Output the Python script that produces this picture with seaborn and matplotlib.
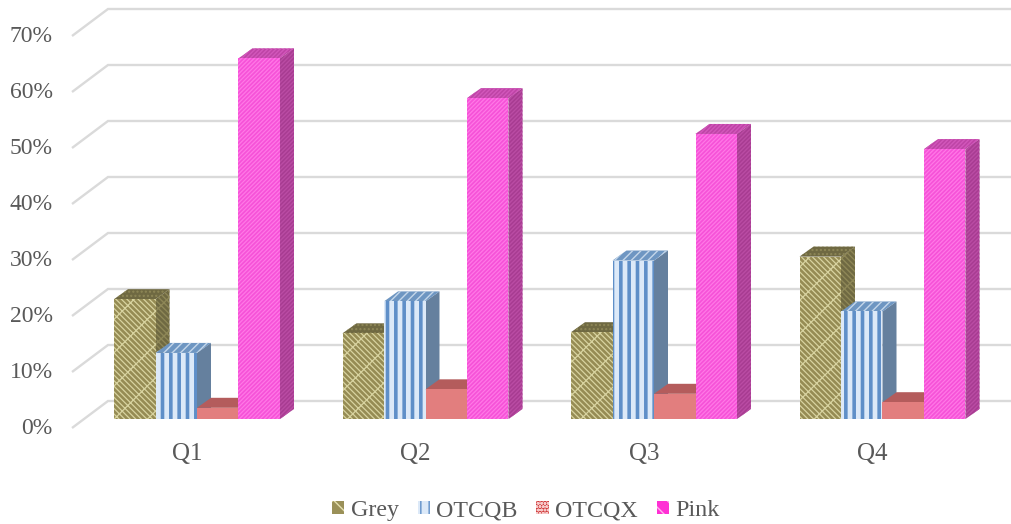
import matplotlib
matplotlib.use("Agg")
import matplotlib.pyplot as plt
from matplotlib.patches import Patch, Polygon
from matplotlib.transforms import ScaledTranslation
import pandas as pd
import seaborn as sns

quarters = ["Q1", "Q2", "Q3", "Q4"]
tiers = ["Grey", "OTCQB", "OTCQX", "Pink"]
grey = [21.4, 15.3, 15.5, 29.0]
otcqb = [11.8, 21.0, 28.3, 19.2]
otcqx = [2.0, 5.3, 4.5, 3.0]
pink = [64.4, 57.3, 50.9, 48.2]
y_ticks = [0, 10, 20, 30, 40, 50, 60, 70]

front_colors = ["#968C54", "#DCE9F8", "#E27E7E", "#F652D8"]
front_hatch = ["\\\\\\\\\\\\/", "||", "", "////////"]
front_edge = ["#D8D3A0", "#5F8FC8", "#E27E7E", "#FF78E6"]
side_colors = ["#6F6942", "#65809E", "#B45C5C", "#A83C92"]
side_hatch = ["\\\\\\\\\\\\/", "", "", "////////"]
side_edge = ["#8E8757", "#65809E", "#B45C5C", "#BA4CA4"]
top_colors = ["#6F6942", "#6E96C2", "#B45C5C", "#BE44A6"]
top_hatch = ["....", "////", "", "////////"]
top_edge = ["#8E8757", "#C4D6EA", "#B45C5C", "#D257BB"]
legend_hatch = ["\\\\/", "||", "ooooo", "\\\\"]
legend_face = ["#9A9058", "#DCE9F8", "#D03C3C", "#FF30D4"]
legend_edge = ["#E4DFB0", "#5F8FC8", "#F6C8C8", "#FFB0EE"]

W, H = 1012, 524
GRID = "#DADADA"
TEXT = "#595959"
FONT = "Liberation Serif"

sns.set_theme(style="white")
plt.rcParams["font.family"] = [FONT, "DejaVu Sans"]

records = pd.DataFrame({
    "quarter": quarters * 4,
    "tier": [t for t in tiers for _ in quarters],
    "share": grey + otcqb + otcqx + pink,
})

fig = plt.figure(figsize=(W / 100, H / 100), dpi=100, facecolor="white")
left, right, base, top = 72, 1012, 419, 27
ax = fig.add_axes([left / W, 1 - base / H, (right - left) / W, (base - top) / H])

sns.barplot(data=records, x="quarter", y="share", hue="tier", order=quarters,
            hue_order=tiers, palette=front_colors, width=166 / 228.5, gap=0,
            saturation=1, legend=False, ax=ax)

# Category spacing and value scale in pixels
ppx = 228.5
ppy = (base - top) / 70
ax.set_xlim((left - 197) / ppx, (right - 197) / ppx)
ax.set_ylim(0, 70)
sns.despine(ax=ax, left=True, bottom=True)
ax.set_xlabel("")
ax.set_ylabel("")

# Depth of the bars and of the rear wall
bar_dx, bar_dy = 14 / ppx, 10 / ppy
wall_x = (108 - 197) / ppx
wall_dy = 18 / ppy
floor_x = (72 - 197) / ppx
floor_dy = -9 / ppy
for v in y_ticks:
    ax.plot([floor_x, wall_x, ax.get_xlim()[1]],
            [v + floor_dy, v + wall_dy, v + wall_dy],
            color=GRID, lw=1.7, zorder=0.5, clip_on=False,
            solid_capstyle="butt", solid_joinstyle="miter")

# Extrude each bar: side and top faces go behind its front, left to right
z = 2.0
for i in range(len(quarters)):
    for j, container in enumerate(ax.containers):
        bar = container.patches[i]
        x0, w, h = bar.get_x(), bar.get_width(), bar.get_height()
        x1 = x0 + w
        side = Polygon([(x1, 0), (x1 + bar_dx, bar_dy), (x1 + bar_dx, h + bar_dy), (x1, h)],
                       closed=True, facecolor=side_colors[j], edgecolor=side_edge[j],
                       hatch=side_hatch[j] or None, lw=0, zorder=z, clip_on=False)
        cap = Polygon([(x0, h), (x1, h), (x1 + bar_dx, h + bar_dy), (x0 + bar_dx, h + bar_dy)],
                      closed=True, facecolor=top_colors[j], edgecolor=top_edge[j],
                      hatch=top_hatch[j] or None, lw=0, zorder=z + 0.1, clip_on=False)
        for face in (side, cap):
            face.set_hatch_linewidth(1.0)
            ax.add_patch(face)
        bar.set_facecolor(front_colors[j])
        bar.set_edgecolor(front_edge[j])
        bar.set_hatch(front_hatch[j] or None)
        bar.set_hatch_linewidth(2.6 if j == 1 else 0.9)
        bar.set_linewidth(0)
        bar.set_zorder(z + 0.2)
        z += 1

# Axis labels sit on the front edge of the floor
ax.set_yticks(y_ticks, [f"{v}%" for v in y_ticks])
ax.tick_params(axis="y", length=0, pad=14.0, labelsize=17, labelcolor=TEXT)
ax.tick_params(axis="x", length=0, pad=17.5, labelsize=18, labelcolor=TEXT)
shift_y = ScaledTranslation(0, -7 / 100, fig.dpi_scale_trans)
shift_x = ScaledTranslation(-10 / 100, 0, fig.dpi_scale_trans)
for label in ax.get_yticklabels():
    label.set_transform(label.get_transform() + shift_y)
for label in ax.get_xticklabels():
    label.set_transform(label.get_transform() + shift_x)

handles = [Patch(facecolor=legend_face[j], edgecolor=legend_edge[j], hatch=legend_hatch[j],
                 lw=0, label=t) for j, t in enumerate(tiers)]
fig.legend(handles=handles, loc="center", bbox_to_anchor=(526 / W, 1 - 510.5 / H), ncol=4,
           frameon=False, fontsize=17.3, labelcolor=TEXT, handlelength=0.5,
           handleheight=0.5, handletextpad=0.28, columnspacing=0.78, borderpad=0,
           borderaxespad=0)

fig.savefig("out.png", dpi=100, facecolor="white")
